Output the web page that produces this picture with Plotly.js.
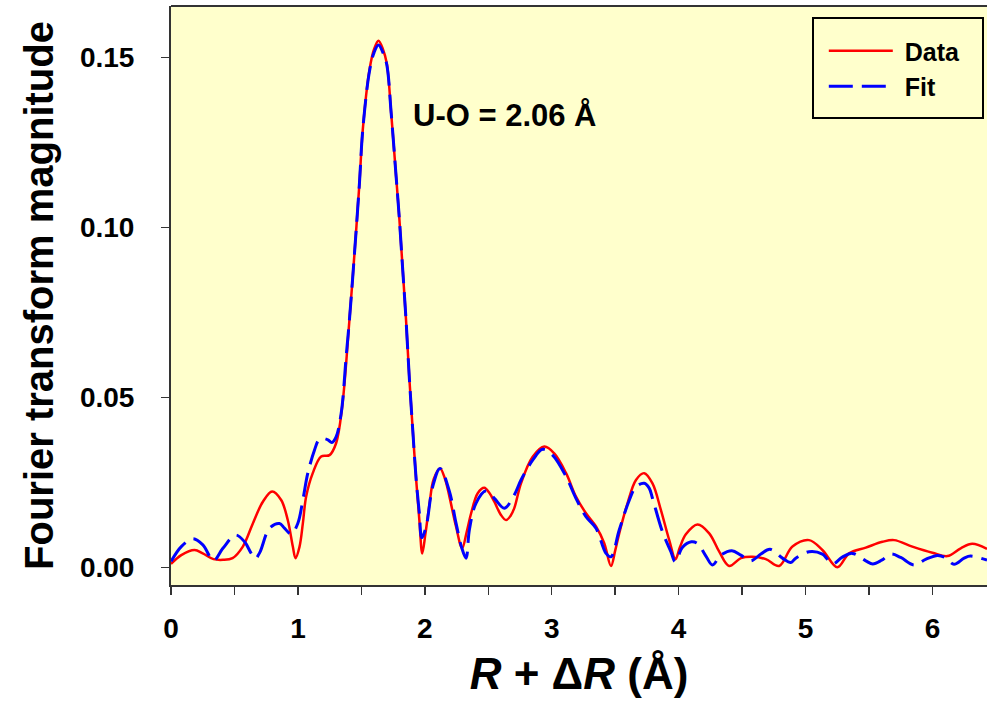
<!DOCTYPE html>
<html>
<head>
<meta charset="utf-8">
<script src="https://cdn.plot.ly/plotly-3.0.1.min.js"></script>
<style>html,body{margin:0;padding:0;background:#fff;}#chart{width:987px;height:710px;}</style>
</head>
<body>
<div id="chart"></div>
<script>
// Data (red, solid)
const dataR = [0.000,0.081,0.186,0.250,0.335,0.410,0.485,0.566,0.645,0.724,0.797,0.868,0.920,0.960,0.981,1.013,1.039,1.065,1.117,1.183,1.249,1.301,1.349,1.406,1.446,1.485,1.511,1.564,1.600,1.635,1.670,1.700,1.735,1.774,1.800,1.826,1.852,1.879,1.905,1.932,1.957,1.980,2.005,2.036,2.070,2.120,2.160,2.194,2.246,2.294,2.330,2.365,2.417,2.469,2.508,2.548,2.600,2.640,2.675,2.705,2.758,2.850,2.942,3.020,3.113,3.191,3.270,3.349,3.414,3.467,3.500,3.532,3.598,3.664,3.729,3.794,3.860,3.926,3.975,4.010,4.057,4.149,4.241,4.320,4.398,4.491,4.582,4.687,4.792,4.897,5.028,5.133,5.251,5.343,5.475,5.606,5.698,5.842,6.000,6.118,6.223,6.314,6.430];
const dataV = [0.0011,0.0037,0.0052,0.0042,0.0025,0.0023,0.0028,0.0062,0.0130,0.0194,0.0224,0.0199,0.0140,0.0062,0.0028,0.0062,0.0130,0.0209,0.0278,0.0327,0.0331,0.0366,0.0474,0.0729,0.0925,0.1131,0.1287,0.1464,0.1525,0.1550,0.1525,0.1484,0.1337,0.1150,0.1023,0.0876,0.0729,0.0552,0.0405,0.0258,0.0140,0.0042,0.0100,0.0185,0.0260,0.0292,0.0260,0.0209,0.0121,0.0057,0.0105,0.0160,0.0219,0.0235,0.0220,0.0194,0.0155,0.0140,0.0152,0.0175,0.0248,0.0326,0.0356,0.0336,0.0278,0.0209,0.0160,0.0121,0.0072,0.0005,0.0050,0.0101,0.0190,0.0258,0.0278,0.0248,0.0170,0.0081,0.0025,0.0060,0.0098,0.0127,0.0101,0.0047,0.0005,0.0028,0.0032,0.0025,0.0005,0.0062,0.0081,0.0052,0.0001,0.0042,0.0059,0.0076,0.0081,0.0062,0.0044,0.0034,0.0057,0.0070,0.0055];

// Fit (blue, dashed)
const fitR = [0.000,0.081,0.172,0.251,0.335,0.409,0.509,0.580,0.632,0.665,0.700,0.776,0.855,0.894,0.947,0.999,1.039,1.078,1.131,1.165,1.200,1.236,1.267,1.301,1.341,1.380,1.406,1.446,1.485,1.511,1.564,1.600,1.635,1.670,1.700,1.735,1.774,1.800,1.826,1.852,1.879,1.905,1.932,1.957,1.976,2.010,2.062,2.120,2.194,2.246,2.290,2.325,2.351,2.404,2.483,2.548,2.627,2.705,2.758,2.850,2.928,3.007,3.113,3.191,3.270,3.349,3.428,3.467,3.532,3.612,3.664,3.729,3.768,3.794,3.873,3.939,3.973,4.031,4.100,4.149,4.215,4.267,4.333,4.420,4.490,4.569,4.648,4.720,4.818,4.884,4.923,5.028,5.133,5.212,5.290,5.369,5.475,5.530,5.600,5.672,5.750,5.855,5.950,6.040,6.100,6.170,6.250,6.300,6.430];
const fitV = [0.0018,0.0062,0.0085,0.0067,0.0021,0.0057,0.0096,0.0076,0.0042,0.0027,0.0045,0.0116,0.0130,0.0116,0.0099,0.0130,0.0199,0.0278,0.0346,0.0376,0.0380,0.0376,0.0368,0.0385,0.0454,0.0620,0.0729,0.0925,0.1131,0.1287,0.1460,0.1515,0.1537,0.1515,0.1480,0.1337,0.1150,0.1023,0.0876,0.0729,0.0552,0.0405,0.0258,0.0160,0.0088,0.0120,0.0238,0.0292,0.0224,0.0131,0.0060,0.0028,0.0111,0.0190,0.0226,0.0204,0.0175,0.0214,0.0258,0.0316,0.0348,0.0331,0.0268,0.0204,0.0150,0.0116,0.0042,0.0032,0.0111,0.0199,0.0238,0.0248,0.0234,0.0204,0.0105,0.0047,0.0018,0.0060,0.0076,0.0071,0.0034,0.0008,0.0037,0.0050,0.0037,0.0020,0.0040,0.0054,0.0028,0.0015,0.0028,0.0047,0.0040,0.0011,0.0031,0.0042,0.0020,0.0011,0.0022,0.0040,0.0030,0.0008,0.0025,0.0036,0.0030,0.0010,0.0028,0.0034,0.0022];

const xTicks = [0,1,2,3,4,5,6];
const yTicks = [0.00,0.05,0.10,0.15];
const seriesNames = ['Data','Fit'];
const annText = 'U-O = 2.06 Å';

const FONT = 'Liberation Sans, Arial, sans-serif';
const BG = '#FFFFCC';
const AX = '#333333';

const traces = [
  {x: dataR, y: dataV, name: '\u00a0' + seriesNames[0], type: 'scatter', mode: 'lines',
   line: {color: '#FF0000', width: 2.5, shape: 'spline', smoothing: 1}},
  {x: fitR, y: fitV, name: '\u00a0' + seriesNames[1], type: 'scatter', mode: 'lines',
   line: {color: '#0000FF', width: 3, dash: '24px,9px', shape: 'spline', smoothing: 1}}
];

const layout = {
  width: 987, height: 710,
  margin: {l: 171, r: 0, t: 6, b: 125},
  paper_bgcolor: '#FFFFFF',
  plot_bgcolor: BG,
  showlegend: true,
  font: {family: FONT, color: '#000'},
  xaxis: {
    range: [0, 6.43], tickvals: xTicks, ticktext: xTicks.map(String),
    showgrid: false, zeroline: false, showline: true, linecolor: AX, linewidth: 2,
    ticks: 'outside', ticklen: 8, tickwidth: 1.5, tickcolor: AX,
    minor: {dtick: 0.5, tick0: 0, ticks: 'outside', ticklen: 8, tickwidth: 1.5, tickcolor: AX, showgrid: false},
    tickfont: {size: 28, family: FONT, weight: 'bold'}, ticklabelstandoff: 9,
    title: {text: '<i>R</i> + Δ<i>R</i> (Å)', font: {size: 44, family: FONT, weight: 'bold'}, standoff: 16}
  },
  yaxis: {
    range: [-0.0051, 0.1652], tickvals: yTicks, ticktext: yTicks.map(v => v.toFixed(2)),
    showgrid: false, zeroline: false, showline: true, linecolor: AX, linewidth: 2,
    ticks: 'outside', ticklen: 8, tickwidth: 1.5, tickcolor: AX,
    tickfont: {size: 28, family: FONT, weight: 'bold'}, ticklabelstandoff: 21,
    title: {text: 'Fourier transform magnitude', font: {size: 40, family: FONT, weight: 'bold'}, standoff: 14}
  },
  legend: {
    x: 0.800, y: 0.962, xanchor: 'left', yanchor: 'top',
    bgcolor: 'rgba(0,0,0,0)', borderwidth: 0,
    font: {size: 25, family: FONT, weight: 'bold', color: '#000'},
    itemwidth: 64, tracegroupgap: 0
  },
  shapes: [
    {type: 'line', xref: 'paper', yref: 'paper', x0: 0, x1: 1, y0: 1, y1: 1, line: {color: AX, width: 2}},
    {type: 'rect', xref: 'paper', yref: 'paper', x0: (813-171)/816, x1: (983-171)/816, y0: (585-118)/579, y1: (585-18)/579,
     line: {color: '#000', width: 2}, fillcolor: 'rgba(0,0,0,0)'}
  ],
  annotations: [
    {x: 1.89, y: 0.1331, xref: 'x', yref: 'y', text: annText, showarrow: false,
     xanchor: 'left', yanchor: 'middle', font: {size: 31, family: FONT, weight: 'bold', color: '#000'}}
  ]
};

Plotly.newPlot('chart', traces, layout, {displayModeBar: false, staticPlot: true});
</script>
</body>
</html>
